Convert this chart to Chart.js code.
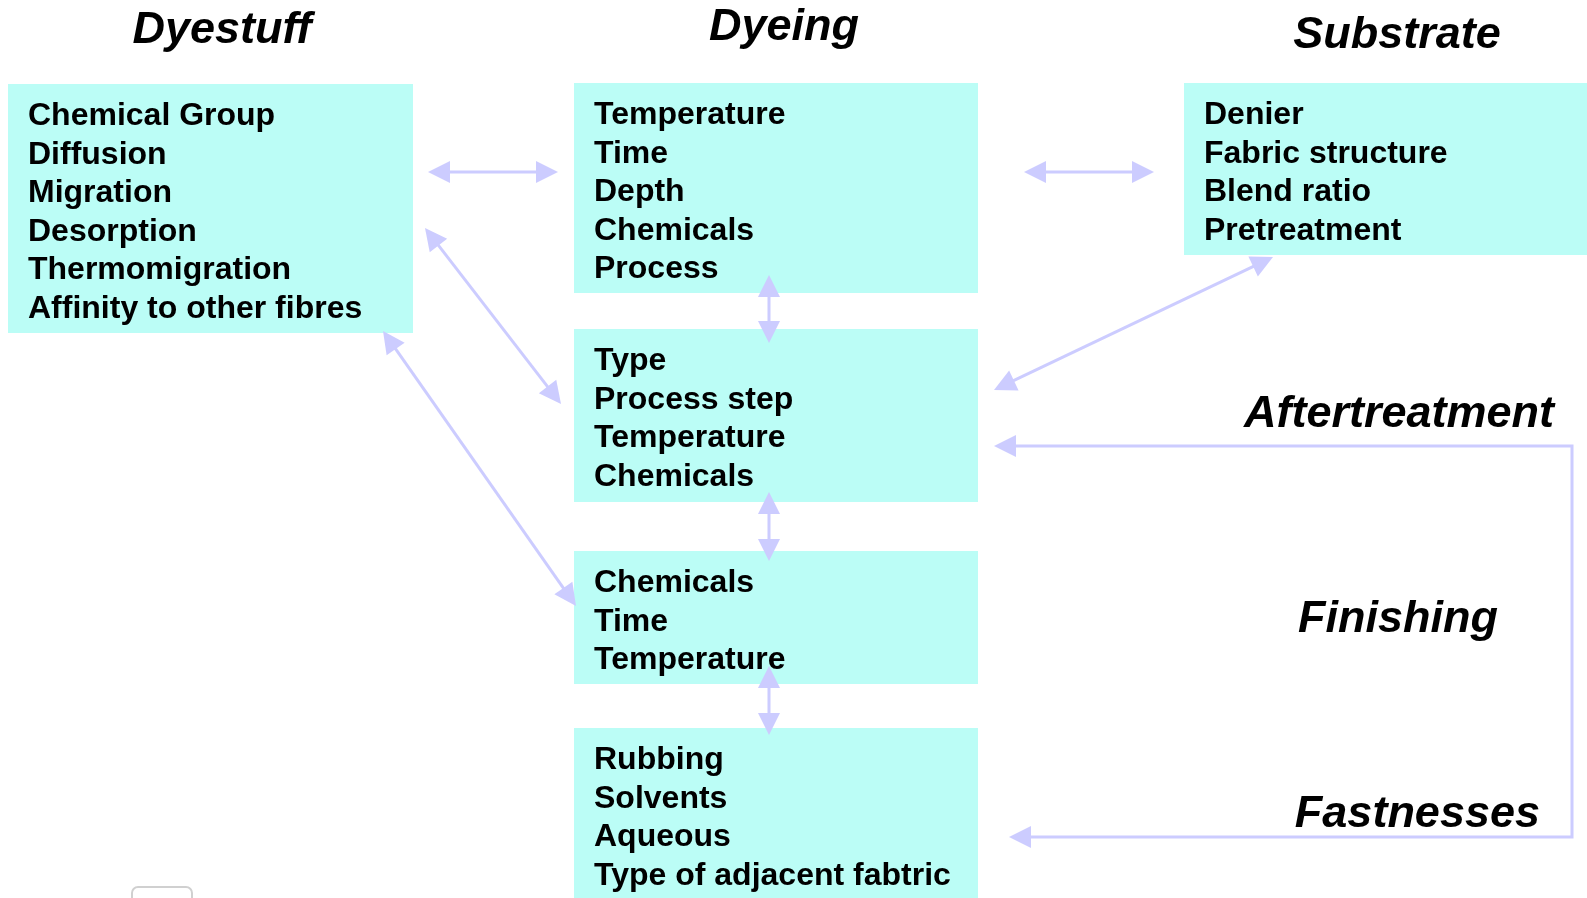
<!DOCTYPE html>
<html>
<head>
<meta charset="utf-8">
<title>Dyeing factors</title>
<script src="https://cdn.jsdelivr.net/npm/chart.js@4.4.0/dist/chart.umd.min.js"></script>
<style>
  html, body { margin: 0; padding: 0; background: #fff; }
  #wrap { width: 1587px; height: 898px; position: relative; }
</style>
</head>
<body>
<div id="wrap"><canvas id="diagram"></canvas></div>
<script>
// Texts
const titles = ['Dyestuff', 'Dyeing', 'Substrate'];
const stages = ['Aftertreatment', 'Finishing', 'Fastnesses'];
const dyestuffProps = ['Chemical Group', 'Diffusion', 'Migration', 'Desorption', 'Thermomigration', 'Affinity to other fibres'];
const dyeingProps = ['Temperature', 'Time', 'Depth', 'Chemicals', 'Process'];
const aftertreatmentProps = ['Type', 'Process step', 'Temperature', 'Chemicals'];
const finishingProps = ['Chemicals', 'Time', 'Temperature'];
const fastnessProps = ['Rubbing', 'Solvents', 'Aqueous', 'Type of adjacent fabtric'];
const substrateProps = ['Denier', 'Fabric structure', 'Blend ratio', 'Pretreatment'];
const boxTexts = [dyestuffProps, dyeingProps, aftertreatmentProps, finishingProps, fastnessProps, substrateProps];

// Layout, in units of the 1587 x 898 frame (x right, y down)
const boxFrames = [
  [8, 84, 413, 333],
  [574, 83, 978, 293],
  [574, 329, 978, 502],
  [574, 551, 978, 684],
  [574, 728, 978, 898],
  [1184, 83, 1587, 255]
];
const titleSpots = [[222, 43], [784, 40], [1397, 48]];
const stageSpots = [[1554, 427, 'right'], [1398, 632, 'center'], [1540, 827, 'right']];
const connectors = [
  [[428, 172], [558, 172]],
  [[1024, 172], [1154, 172]],
  [[425, 228], [561, 404]],
  [[383, 331], [576, 606]],
  [[1273, 257], [994, 390]],
  [[769, 275], [769, 343]],
  [[769, 492], [769, 561]],
  [[769, 666], [769, 735]],
  [[994, 446], [1572, 446], [1572, 837], [1009, 837]]
];

// Styles
const BOX_FILL = '#bbfdf6';
const ARROW = '#ccccff';
const BODY_FONT = 'bold 32px "Liberation Sans", Arial, sans-serif';
const HEAD_FONT = 'italic bold 45px "Liberation Sans", Arial, sans-serif';
const LINE_STEP = 38.5;
const HEAD_LEN = 22;
const HEAD_HALF = 11;

// pull line ends back a little so the arrow tips stay sharp
function trimmed(pts) {
  const out = pts.map(p => ({ x: p[0], y: p[1] }));
  const pull = (a, b) => {
    const dx = b.x - a.x, dy = b.y - a.y;
    const len = Math.hypot(dx, dy) || 1;
    a.x += dx / len * 10; a.y += dy / len * 10;
  };
  pull(out[0], { ...out[1] });
  pull(out[out.length - 1], { ...out[out.length - 2] });
  return out;
}

const diagramPlugin = {
  id: 'diagram',
  beforeDatasetsDraw(chart) {
    const { ctx, scales: { x, y } } = chart;
    ctx.save();
    // boxes
    boxFrames.forEach((f, i) => {
      const x0 = x.getPixelForValue(f[0]), y0 = y.getPixelForValue(f[1]);
      const x1 = x.getPixelForValue(f[2]), y1 = y.getPixelForValue(f[3]);
      ctx.fillStyle = BOX_FILL;
      ctx.fillRect(x0, y0, x1 - x0, y1 - y0);
      ctx.fillStyle = '#000';
      ctx.font = BODY_FONT;
      ctx.textAlign = 'left';
      ctx.textBaseline = 'alphabetic';
      boxTexts[i].forEach((t, j) => {
        ctx.fillText(t, x.getPixelForValue(f[0] + 20), y.getPixelForValue(f[1] + 41 + j * LINE_STEP));
      });
    });
    // headings
    ctx.font = HEAD_FONT;
    ctx.fillStyle = '#000';
    titles.forEach((t, i) => {
      ctx.textAlign = 'center';
      ctx.fillText(t, x.getPixelForValue(titleSpots[i][0]), y.getPixelForValue(titleSpots[i][1]));
    });
    stages.forEach((t, i) => {
      ctx.textAlign = stageSpots[i][2];
      ctx.fillText(t, x.getPixelForValue(stageSpots[i][0]), y.getPixelForValue(stageSpots[i][1]));
    });
    // faint object peeking in at the bottom left
    ctx.strokeStyle = '#d0d0d0';
    ctx.lineWidth = 2;
    ctx.beginPath();
    ctx.roundRect(x.getPixelForValue(132), y.getPixelForValue(887), 60, 30, 6);
    ctx.stroke();
    ctx.restore();
  },
  afterDatasetsDraw(chart) {
    const { ctx, scales: { x, y } } = chart;
    ctx.save();
    ctx.fillStyle = ARROW;
    const head = (tip, from) => {
      const tx = x.getPixelForValue(tip[0]), ty = y.getPixelForValue(tip[1]);
      const fx = x.getPixelForValue(from[0]), fy = y.getPixelForValue(from[1]);
      const a = Math.atan2(ty - fy, tx - fx);
      const bx = tx - Math.cos(a) * HEAD_LEN, by = ty - Math.sin(a) * HEAD_LEN;
      ctx.beginPath();
      ctx.moveTo(tx, ty);
      ctx.lineTo(bx - Math.sin(a) * HEAD_HALF, by + Math.cos(a) * HEAD_HALF);
      ctx.lineTo(bx + Math.sin(a) * HEAD_HALF, by - Math.cos(a) * HEAD_HALF);
      ctx.closePath();
      ctx.fill();
    };
    connectors.forEach(pts => {
      head(pts[0], pts[1]);
      head(pts[pts.length - 1], pts[pts.length - 2]);
    });
    ctx.restore();
  }
};

new Chart(document.getElementById('diagram'), {
  type: 'scatter',
  data: {
    datasets: connectors.map(pts => ({
      data: trimmed(pts),
      showLine: true,
      fill: false,
      tension: 0,
      borderColor: ARROW,
      borderWidth: 3,
      pointRadius: 0,
      pointHoverRadius: 0
    }))
  },
  options: {
    responsive: true,
    maintainAspectRatio: false,
    animation: false,
    events: [],
    layout: { padding: 0 },
    plugins: { legend: { display: false }, tooltip: { enabled: false } },
    scales: {
      x: { type: 'linear', min: 0, max: 1587, display: false },
      y: { type: 'linear', min: 0, max: 898, reverse: true, display: false }
    }
  },
  plugins: [diagramPlugin]
});
</script>
</body>
</html>
